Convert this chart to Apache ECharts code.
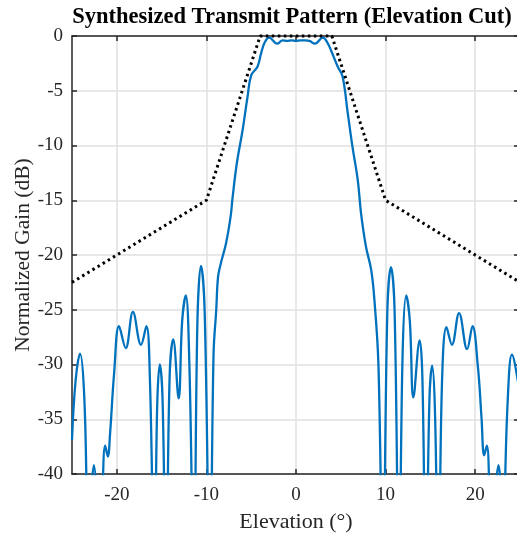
<!DOCTYPE html>
<html>
<head>
<meta charset="utf-8">
<script src="https://cdn.jsdelivr.net/npm/echarts@6/dist/echarts.min.js"></script>
<style>html,body{margin:0;padding:0;background:#fff;}#c{width:517px;height:533px;}</style>
</head>
<body>
<div id="c"></div>
<script>
// Synthesized pattern (blue)
const elev = [-25.0,-24.6,-24.1,-23.65,-23.35,-23.1,-22.85,-22.55,-22.25,-21.9,-21.6,-21.3,-21.0,-20.75,-20.3,-19.75,-19.0,-18.2,-17.3,-16.7,-16.3,-15.8,-15.5,-15.2,-14.9,-14.5,-14.1,-13.7,-13.1,-12.7,-12.3,-11.9,-11.4,-11.0,-10.6,-10.2,-9.6,-9.2,-8.9,-8.7,-8.4,-7.8,-7.3,-7.07,-6.6,-5.96,-5.4,-5.0,-4.3,-3.9,-3.5,-3.0,-2.1,-1.5,-1.0,-0.5,0,0.5,1.0,1.5,2.1,3.0,3.5,3.9,4.66,5.2,5.77,6.3,6.9,7.26,7.8,8.4,8.75,9.2,9.7,10.2,10.6,11.0,11.5,11.9,12.3,12.7,13.1,13.8,14.1,14.5,14.9,15.2,15.5,15.9,16.3,16.8,17.4,18.2,19.1,19.7,20.3,20.7,21.0,21.3,21.6,21.9,22.25,22.6,22.9,23.1,23.3,23.65,24.1,24.8,25.0];
const gain = [-36.9,-31.5,-29.0,-32.6,-42,-50,-42,-39.2,-42,-50,-42,-37.4,-38.4,-36.3,-30.8,-26.5,-28.5,-25.2,-28.2,-26.5,-31.5,-50,-34,-30.0,-33,-50,-31,-27.7,-33.1,-26,-23.7,-30,-50,-26,-21.0,-25,-50,-29,-25.0,-22.0,-20.8,-18.9,-16.5,-14.7,-11.6,-8.6,-5.5,-3.6,-2.8,-1.6,-0.6,-0.15,-0.7,-0.4,-0.45,-0.4,-0.45,-0.4,-0.4,-0.45,-0.7,-0.15,-0.6,-1.3,-2.8,-3.7,-7.0,-10.1,-13.2,-16.2,-19.2,-21.4,-24.1,-30,-50,-25,-21.1,-25,-50,-29,-23.7,-26,-33.0,-27.8,-31,-50,-33,-30.1,-34,-50,-31.5,-26.6,-28.2,-25.3,-28.6,-26.5,-30.2,-34.8,-38.3,-37.4,-42,-50,-42,-39.2,-42,-50,-42,-32.9,-29.1,-31.7,-33.5];
// Mask (dotted)
const maskX = [-25,-10,-4,4,10,25];
const maskY = [-22.5,-15,0,0,-15,-22.5];
// Ticks
const xTicks = [-20,-10,0,10,20];

const FONT = 'Liberation Serif';
const TXT = '#262626';
const chart = echarts.init(document.getElementById('c'));
const patternData = elev.map((x,i)=>[x,gain[i]]);
const maskData = maskX.map((x,i)=>[x,maskY[i]]);

chart.setOption({
  animation:false,
  backgroundColor:'#fff',
  title:{text:'Synthesized Transmit Pattern (Elevation Cut)',left:287,top:1,textAlign:'center',
    textStyle:{fontFamily:FONT,fontWeight:'bold',fontSize:22.5,color:'#000'}},
  grid:{left:72,top:36,width:448,height:438,containLabel:false,outerBoundsMode:'none'},
  xAxis:[{type:'value',min:-25,max:25,position:'bottom',
    name:'Elevation (°)',nameLocation:'middle',nameGap:37,
    nameTextStyle:{fontFamily:FONT,fontSize:22,color:TXT},
    axisLine:{show:true,onZero:false,lineStyle:{color:TXT,width:1.5}},
    axisTick:{show:true,inside:true,length:5,customValues:xTicks,lineStyle:{color:TXT,width:1.5}},
    axisLabel:{customValues:xTicks,margin:12,fontFamily:FONT,fontSize:19,color:TXT},
    splitLine:{show:true,customValues:xTicks,lineStyle:{color:'#e0e0e0',width:1.5}}},
   {type:'value',min:-25,max:25,position:'top',
    axisLine:{show:true,onZero:false,lineStyle:{color:TXT,width:1.5}},
    axisTick:{show:true,inside:true,length:5,customValues:xTicks,lineStyle:{color:TXT,width:1.5}},
    axisLabel:{show:false},splitLine:{show:false}}],
  yAxis:[{type:'value',min:-40,max:0,interval:5,position:'left',
    name:'Normalized Gain (dB)',nameLocation:'middle',nameGap:38,nameRotate:90,nameMoveOverlap:false,
    nameTextStyle:{fontFamily:FONT,fontSize:21.5,color:TXT},
    axisLine:{show:true,onZero:false,lineStyle:{color:TXT,width:1.5}},
    axisTick:{show:true,inside:true,length:5,lineStyle:{color:TXT,width:1.5}},
    axisLabel:{margin:9,fontFamily:FONT,fontSize:19,color:TXT},
    splitLine:{show:true,lineStyle:{color:'#e0e0e0',width:1.5}}},
   {type:'value',min:-40,max:0,interval:5,position:'right',
    axisLine:{show:true,onZero:false,lineStyle:{color:TXT,width:1.5}},
    axisTick:{show:true,inside:true,length:6,lineStyle:{color:TXT,width:1.5}},
    axisLabel:{show:false},splitLine:{show:false}}],
  series:[
    {type:'line',name:'Pattern',data:patternData,xAxisIndex:0,yAxisIndex:0,showSymbol:false,
     smooth:0.4,clip:true,lineStyle:{color:'#0072BD',width:2.3},z:3},
    {type:'line',name:'Mask',data:maskData,xAxisIndex:0,yAxisIndex:0,showSymbol:false,
     clip:false,lineStyle:{color:'#000',width:3,type:[2.5,3.5],cap:'butt'},z:4}
  ]
});
</script>
</body>
</html>
